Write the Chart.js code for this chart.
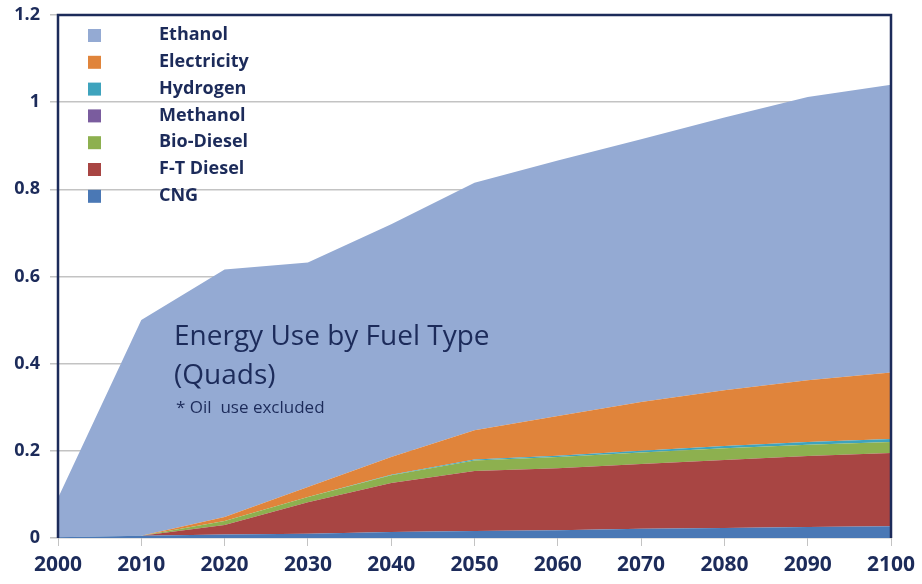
<!DOCTYPE html>
<html>
<head>
<meta charset="utf-8">
<script src="https://cdn.jsdelivr.net/npm/chart.js@4.4.1/dist/chart.umd.min.js"></script>
<style>
  html, body { margin: 0; padding: 0; background: #fff; }
  #wrap { width: 922px; height: 584px; position: relative; }
</style>
</head>
<body>
<div id="wrap"><canvas id="fuelChart" width="922" height="584"></canvas></div>
<script>
// Years on the x axis
const years = ['2000', '2010', '2020', '2030', '2040', '2050', '2060', '2070', '2080', '2090', '2100'];

// Layer values (Quads), stacked bottom -> top
const cng        = [0.002, 0.005, 0.008, 0.010, 0.014, 0.016, 0.018, 0.021, 0.023, 0.025, 0.027];
const ftDiesel   = [0.000, 0.000, 0.022, 0.072, 0.112, 0.138, 0.142, 0.149, 0.156, 0.163, 0.168];
const bioDiesel  = [0.000, 0.000, 0.009, 0.012, 0.018, 0.024, 0.026, 0.026, 0.027, 0.026, 0.025];
const methanol   = [0.000, 0.000, 0.000, 0.000, 0.000, 0.000, 0.000, 0.000, 0.000, 0.000, 0.000];
const hydrogen   = [0.000, 0.000, 0.000, 0.000, 0.001, 0.002, 0.003, 0.004, 0.005, 0.006, 0.007];
const electricity= [0.000, 0.000, 0.009, 0.023, 0.041, 0.067, 0.091, 0.112, 0.128, 0.142, 0.153];
const ethanol    = [0.090, 0.495, 0.568, 0.515, 0.534, 0.568, 0.586, 0.603, 0.626, 0.650, 0.660];

// Y axis tick values
const yTicks = [0, 0.2, 0.4, 0.6, 0.8, 1, 1.2];

const NAVY = '#1c2b5a';
const GRID = '#c3c3c3';

function layer(label, data, color, fill) {
    return {
        label: label,
        data: data,
        backgroundColor: color,
        borderColor: color,
        borderWidth: 0,
        pointRadius: 0,
        tension: 0,
        fill: fill
    };
}

// frame + legend + note text
const decorPlugin = {
    id: 'decor',
    afterDatasetsDraw(chart) {
        const ctx = chart.ctx;
        const a = chart.chartArea;
        ctx.save();
        ctx.strokeStyle = NAVY;
        ctx.lineWidth = 2.5;
        ctx.beginPath();
        ctx.moveTo(a.left, a.bottom);
        ctx.lineTo(a.left, a.top);
        ctx.lineTo(a.right, a.top);
        ctx.lineTo(a.right, a.bottom);
        ctx.stroke();

        // legend, top item first
        const items = chart.data.datasets.slice().reverse();
        ctx.font = 'bold 18px "Open Sans"';
        ctx.textBaseline = 'middle';
        items.forEach((ds, i) => {
            const y = 35 + i * 26.8;
            ctx.fillStyle = ds.backgroundColor;
            ctx.fillRect(88, y - 6, 13, 13);
            ctx.fillStyle = NAVY;
            ctx.fillText(ds.label, 159, y);
        });

        // note in the plot
        ctx.textBaseline = 'alphabetic';
        ctx.font = '28px "Open Sans"';
        ctx.fillText('Energy Use by Fuel Type', 174, 345);
        ctx.fillText('(Quads)', 174, 384);
        ctx.font = '17px "Open Sans"';
        ctx.fillText('* Oil  use excluded', 176, 413);
        ctx.restore();
    }
};

new Chart(document.getElementById('fuelChart'), {
    type: 'line',
    data: {
        labels: years,
        datasets: [
            layer('CNG', cng, '#4a78b5', 'origin'),
            layer('F-T Diesel', ftDiesel, '#a84543', '-1'),
            layer('Bio-Diesel', bioDiesel, '#8db04f', '-1'),
            layer('Methanol', methanol, '#7a5c9e', '-1'),
            layer('Hydrogen', hydrogen, '#3ea3bd', '-1'),
            layer('Electricity', electricity, '#e0843b', '-1'),
            layer('Ethanol', ethanol, '#94aad3', '-1')
        ]
    },
    options: {
        responsive: false,
        animation: false,
        layout: { padding: { top: 15, right: 31, left: 0, bottom: 0 } },
        plugins: {
            legend: { display: false },
            tooltip: { enabled: false }
        },
        scales: {
            x: {
                offset: false,
                afterFit: (s) => { s.height = 46; s.paddingLeft = 0; s.paddingRight = 0; },
                grid: { drawOnChartArea: false, drawTicks: true, tickLength: 8, color: GRID },
                border: { display: false },
                ticks: {
                    color: NAVY,
                    font: { family: 'Open Sans', size: 21, weight: 'bold' },
                    padding: 6,
                    maxRotation: 0,
                    autoSkip: false
                }
            },
            y: {
                stacked: true,
                min: 0,
                max: 1.2,
                afterFit: (s) => { s.width = 58; s.paddingTop = 0; s.paddingBottom = 0; },
                afterBuildTicks: (s) => { s.ticks = yTicks.map(v => ({ value: v })); },
                grid: { color: GRID, lineWidth: 1.5, tickLength: 8 },
                border: { display: false },
                ticks: {
                    color: NAVY,
                    font: { family: 'Open Sans', size: 18, weight: 'bold' },
                    padding: 10,
                    callback: (v) => String(Math.round(v * 10) / 10)
                }
            }
        }
    },
    plugins: [decorPlugin]
});
</script>
</body>
</html>
